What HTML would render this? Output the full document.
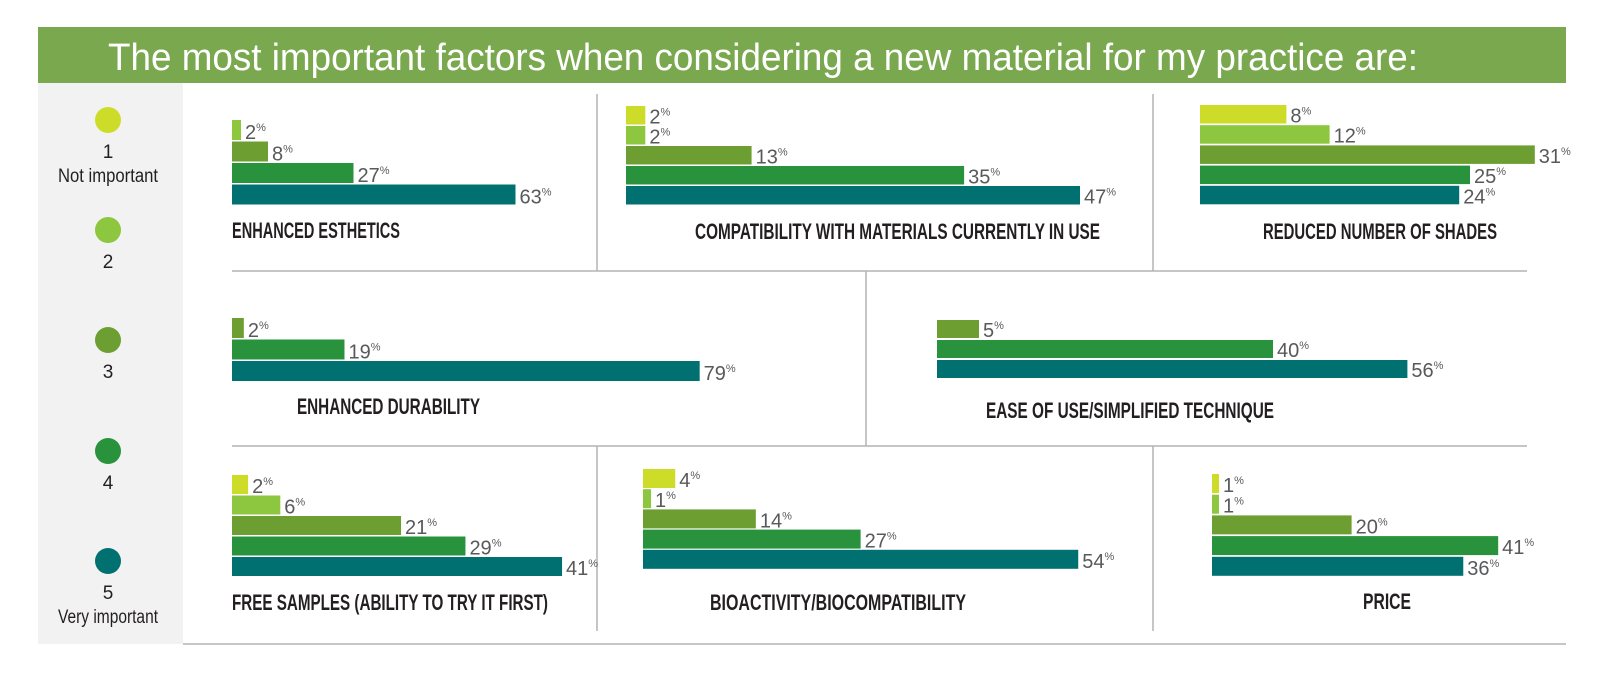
<!DOCTYPE html>
<html><head><meta charset="utf-8"><style>
html,body{margin:0;padding:0;background:#fff;}
svg{display:block;}
.ttl{font-family:"Liberation Sans",sans-serif;fill:#fff;font-size:38px;}
.lab{font-family:"Liberation Sans Narrow","Liberation Sans",sans-serif;font-weight:bold;fill:#231f20;font-size:22px;}
.val{font-family:"Liberation Sans Narrow","Liberation Sans",sans-serif;fill:#58595b;font-size:20px;}
.pct{font-size:11px;}
.leg{font-family:"Liberation Sans Narrow","Liberation Sans",sans-serif;fill:#231f20;font-size:19px;}
</style></head><body>
<svg id="chart" width="1613" height="679" viewBox="0 0 1613 679" xmlns="http://www.w3.org/2000/svg">
<rect x="38" y="27" width="1528" height="56" fill="#7aa84f"/>
<text x="108" y="70" class="ttl" textLength="1310" lengthAdjust="spacingAndGlyphs">The most important factors when considering a new material for my practice are:</text>
<rect x="38" y="83" width="145" height="561" fill="#f2f2f2"/>
<g id="grid" stroke="#b3b3b3" stroke-width="1.5">
<line x1="232" y1="271" x2="1527" y2="271"/>
<line x1="232" y1="446" x2="1527" y2="446"/>
<line x1="183" y1="644" x2="1566" y2="644"/>
<line x1="597" y1="94" x2="597" y2="271"/>
<line x1="1153" y1="94" x2="1153" y2="271"/>
<line x1="866" y1="271" x2="866" y2="446"/>
<line x1="597" y1="446" x2="597" y2="631"/>
<line x1="1153" y1="446" x2="1153" y2="631"/>
</g>
<g id="legend"></g>
<g id="bars"></g>
</svg>
<script>
const colors = ["#cddc29","#8dc63f","#6d9e31","#29923d","#007170"];
const legendLabels = ["1","2","3","4","5"];
const legendSub = ["Not important","","","","Very important"];
const categories = ["ENHANCED ESTHETICS","COMPATIBILITY WITH MATERIALS CURRENTLY IN USE","REDUCED NUMBER OF SHADES","ENHANCED DURABILITY","EASE OF USE/SIMPLIFIED TECHNIQUE","FREE SAMPLES (ABILITY TO TRY IT FIRST)","BIOACTIVITY/BIOCOMPATIBILITY","PRICE"];
const levels1 = [2,3,4,5];
const values1 = [2,8,27,63];
const levels2 = [1,2,3,4,5];
const values2 = [2,2,13,35,47];
const levels3 = [1,2,3,4,5];
const values3 = [8,12,31,25,24];
const levels4 = [3,4,5];
const values4 = [2,19,79];
const levels5 = [3,4,5];
const values5 = [5,40,56];
const levels6 = [1,2,3,4,5];
const values6 = [2,6,21,29,41];
const levels7 = [1,2,3,4,5];
const values7 = [4,1,14,27,54];
const levels8 = [1,2,3,4,5];
const values8 = [1,1,20,41,36];

const NS="http://www.w3.org/2000/svg";
function mk(tag, attrs){const e=document.createElementNS(NS,tag);for(const k in attrs)e.setAttribute(k,attrs[k]);return e;}

const lg=document.getElementById('legend');
const legY=[120,230,340,451,561];
legendLabels.forEach((l,i)=>{
  const c=mk('circle',{cx:108,cy:legY[i],r:13,fill:colors[i]});
  
  
  lg.appendChild(c);
  const t=mk('text',{x:108,y:legY[i]+38,'text-anchor':'middle',class:'leg'});
  t.textContent=l;
  
  
  lg.appendChild(t);
  if(legendSub[i]){
    const s=mk('text',{x:108,y:legY[i]+62,'text-anchor':'middle',class:'leg',textLength:100,lengthAdjust:'spacingAndGlyphs'});
    s.textContent=legendSub[i];
    
    
    lg.appendChild(s);
  }
});

const panels=[
 {lv:levels1,v:values1,x0:232,sc:4.5,y0:120,pitch:21.5,h:20,lx:232,ly:238,lw:168},
 {lv:levels2,v:values2,x0:626,sc:9.66,y0:106,pitch:20,h:18.5,lx:695,ly:239,lw:405},
 {lv:levels3,v:values3,x0:1200,sc:10.8,y0:105,pitch:20.2,h:18.5,lx:1263,ly:239,lw:234},
 {lv:levels4,v:values4,x0:232,sc:5.92,y0:318,pitch:21.5,h:20,lx:297,ly:414,lw:183},
 {lv:levels5,v:values5,x0:937,sc:8.4,y0:320,pitch:20,h:18,lx:986,ly:418,lw:288},
 {lv:levels6,v:values6,x0:232,sc:8.05,y0:475,pitch:20.5,h:19,lx:232,ly:610,lw:316},
 {lv:levels7,v:values7,x0:643,sc:8.06,y0:469,pitch:20.2,h:19,lx:710,ly:610,lw:256},
 {lv:levels8,v:values8,x0:1212,sc:6.98,y0:474,pitch:20.7,h:19,lx:1363,ly:609,lw:48}
];
const bg=document.getElementById('bars');
panels.forEach((p,pi)=>{
  const g=mk('g',{});
  
  
  bg.appendChild(g);
  const xs=v=>v*p.sc;
  p.v.forEach((val,i)=>{
    const y=p.y0+i*p.pitch;
    const w=xs(val);
    const r=mk('rect',{x:p.x0,y:y,width:w,height:p.h,fill:colors[p.lv[i]-1]});
    
    
    g.appendChild(r);
    const t=mk('text',{x:p.x0+w+4,y:y+p.h-1,class:'val'});
    t.appendChild(document.createTextNode(val));
    const s=mk('tspan',{class:'pct',dy:-8});s.textContent='%';t.appendChild(s);
    
    
    g.appendChild(t);
  });
  const l=mk('text',{x:p.lx,y:p.ly,class:'lab',textLength:p.lw,lengthAdjust:'spacingAndGlyphs'});
  l.textContent=categories[pi];
  
  
  g.appendChild(l);
});
</script>
</body></html>
